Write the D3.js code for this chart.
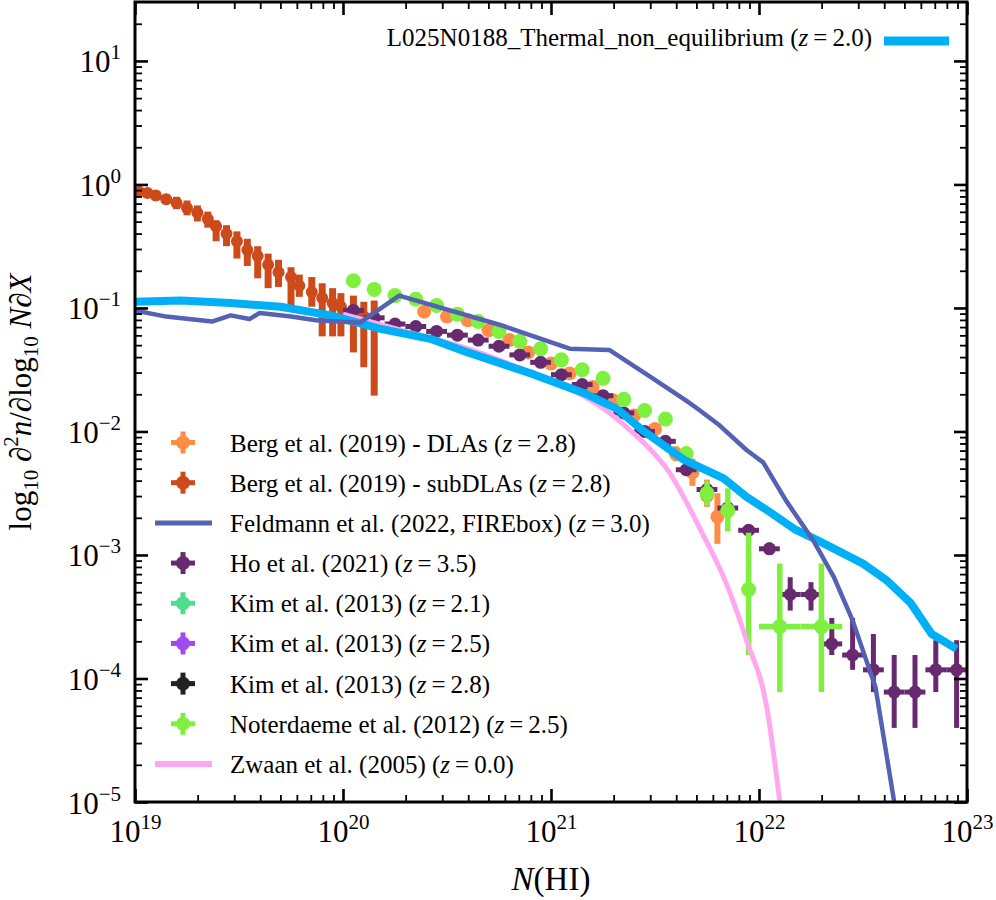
<!DOCTYPE html>
<html>
<head>
<meta charset="utf-8">
<script src="https://cdn.jsdelivr.net/npm/d3@7"></script>
<style>
  body { margin: 0; background: #fff; }
  text { font-family: "Liberation Serif", "Times New Roman", serif; fill: #000; }
</style>
</head>
<body>
<svg id="chart" width="996" height="900" font-family="Liberation Serif, serif"></svg>
<script>
// values are log10 N(HI) and log10 f

// Berg et al. (2019) subDLAs
const bergSubLogN = [19.02, 19.06, 19.10, 19.15, 19.20, 19.25, 19.30, 19.35, 19.39, 19.44, 19.49, 19.54,
  19.59, 19.64, 19.69, 19.75, 19.79, 19.85, 19.90, 19.95, 19.99, 20.05, 20.10, 20.15]
const bergSubLogF = [-0.06, -0.07, -0.09, -0.12, -0.15, -0.19, -0.23, -0.28, -0.34, -0.40, -0.46, -0.53,
  -0.58, -0.65, -0.71, -0.75, -0.82, -0.87, -0.92, -0.96, -0.99, -1.02, -1.07, -1.13]
const bergSubHi = [-0.03, -0.04, -0.05, -0.08, -0.10, -0.13, -0.17, -0.22, -0.29, -0.33, -0.38, -0.44,
  -0.50, -0.56, -0.61, -0.67, -0.73, -0.75, -0.80, -0.84, -0.88, -0.90, -0.95, -0.94]
const bergSubLo = [-0.09, -0.10, -0.13, -0.16, -0.20, -0.25, -0.30, -0.35, -0.46, -0.50, -0.60, -0.66,
  -0.76, -0.84, -0.83, -0.99, -0.91, -0.99, -1.23, -1.23, -1.23, -1.36, -1.48, -1.71]

// Berg et al. (2019) DLAs
const bergDlaLogN = [20.39, 20.50, 20.60, 20.70, 20.80, 20.89, 21.00, 21.09, 21.20, 21.30, 21.40, 21.50,
  21.60, 21.68, 21.75, 21.80]
const bergDlaLogF = [-1.03, -1.07, -1.10, -1.18, -1.26, -1.36, -1.45, -1.53, -1.64, -1.75, -1.87, -1.98,
  -2.18, -2.33, -2.52, -2.69]
const bergDlaHi = [-1.01, -1.05, -1.08, -1.16, -1.24, -1.34, -1.43, -1.51, -1.62, -1.72, -1.84, -1.94,
  -2.12, -2.22, -2.39, -2.50]
const bergDlaLo = [-1.05, -1.09, -1.12, -1.20, -1.28, -1.38, -1.47, -1.55, -1.66, -1.78, -1.90, -2.02,
  -2.24, -2.44, -2.61, -2.91]

// Ho et al. (2021)
const hoLogN = [20.05, 20.15, 20.25, 20.35, 20.45, 20.55, 20.65, 20.75, 20.85, 20.95, 21.05, 21.15,
  21.25, 21.35, 21.45, 21.55, 21.65, 21.75, 21.85, 21.95, 22.05, 22.15, 22.25, 22.35, 22.45, 22.55,
  22.65, 22.75, 22.85, 22.95]
const hoLogF = [-1.02, -1.08, -1.13, -1.15, -1.19, -1.22, -1.26, -1.31, -1.38, -1.44, -1.54, -1.62,
  -1.71, -1.85, -2.00, -2.08, -2.31, -2.47, -2.62, -2.80, -2.95, -3.32, -3.32, -3.72, -3.81, -3.93,
  -4.11, -4.11, -3.93, -3.93]
const hoHi = [-1.00, -1.06, -1.11, -1.13, -1.17, -1.20, -1.24, -1.29, -1.36, -1.42, -1.52, -1.60,
  -1.69, -1.83, -1.98, -2.05, -2.28, -2.44, -2.58, -2.76, -2.90, -3.18, -3.22, -3.51, -3.51, -3.64,
  -3.81, -3.81, -3.69, -3.69]
const hoLo = [-1.04, -1.10, -1.15, -1.17, -1.21, -1.24, -1.28, -1.33, -1.40, -1.46, -1.56, -1.64,
  -1.73, -1.87, -2.02, -2.11, -2.34, -2.50, -2.66, -2.84, -3.00, -3.45, -3.45, -3.81, -3.93, -4.11,
  -4.40, -4.40, -4.11, -4.40]

// Noterdaeme et al. (2012)
const notLogN = [20.05, 20.15, 20.25, 20.35, 20.45, 20.55, 20.65, 20.75, 20.85, 20.95, 21.05, 21.15,
  21.25, 21.35, 21.45, 21.55, 21.65, 21.75, 21.85, 21.95, 22.10, 22.30]
const notLogF = [-0.78, -0.85, -0.90, -0.93, -0.98, -1.05, -1.11, -1.19, -1.27, -1.33, -1.42, -1.50,
  -1.57, -1.74, -1.83, -1.90, -2.18, -2.50, -2.64, -3.28, -3.58, -3.58]
const notHi = [-0.76, -0.83, -0.88, -0.91, -0.96, -1.03, -1.09, -1.17, -1.25, -1.31, -1.40, -1.48,
  -1.55, -1.71, -1.80, -1.86, -2.12, -2.40, -2.46, -2.82, -3.07, -3.07]
const notLo = [-0.80, -0.87, -0.92, -0.95, -1.00, -1.07, -1.13, -1.21, -1.29, -1.35, -1.44, -1.52,
  -1.59, -1.77, -1.86, -1.94, -2.24, -2.60, -2.81, -3.81, -4.11, -4.11]
const notXerr = [0, 0, 0, 0, 0, 0, 0, 0, 0, 0, 0, 0, 0, 0, 0, 0, 0, 0, 0, 0, 0.1, 0.1]

// Feldmann et al. (2022, FIREbox)
const feldLogN = [19.00, 19.15, 19.37, 19.46, 19.55, 19.60, 19.75, 19.87, 20.08, 20.27, 20.76, 21.09,
  21.28, 21.48, 21.65, 21.70, 21.81, 21.94, 22.02, 22.13, 22.26, 22.36, 22.45, 22.56, 22.65]
const feldLogF = [-1.02, -1.07, -1.11, -1.06, -1.09, -1.04, -1.07, -1.10, -1.12, -0.90, -1.14, -1.33,
  -1.34, -1.56, -1.75, -1.81, -1.95, -2.15, -2.25, -2.56, -2.88, -3.18, -3.53, -4.07, -5.00]

// L025N0188_Thermal_non_equilibrium
const simLogN = [19.00, 19.22, 19.46, 19.70, 19.94, 20.18, 20.42, 20.60, 20.92, 21.16, 21.32, 21.44,
  21.64, 21.83, 21.94, 22.05, 22.17, 22.28, 22.50, 22.61, 22.73, 22.83, 22.95]
const simLogF = [-0.95, -0.94, -0.96, -0.99, -1.06, -1.17, -1.25, -1.36, -1.54, -1.69, -1.82, -1.99,
  -2.23, -2.38, -2.53, -2.65, -2.79, -2.88, -3.07, -3.20, -3.39, -3.64, -3.76]

// Zwaan et al. (2005)
const zwaanLogN = [20.00, 20.30, 20.60, 20.90, 21.10, 21.24, 21.40, 21.48, 21.56, 21.72, 21.85, 21.94,
  22.04, 22.10]
const zwaanLogF = [-1.05, -1.19, -1.33, -1.52, -1.66, -1.80, -2.02, -2.15, -2.31, -2.80, -3.26, -3.69,
  -4.26, -5.00]

const legendLabels = ["Berg et al. (2019) - DLAs", "Berg et al. (2019) - subDLAs",
  "Feldmann et al. (2022, FIREbox)", "Ho et al. (2021)", "Kim et al. (2013)", "Kim et al. (2013)",
  "Kim et al. (2013)", "Noterdaeme et al. (2012)", "Zwaan et al. (2005)"]
const legendZ = ["2.8", "2.8", "3.0", "3.5", "2.1", "2.5", "2.8", "2.5", "0.0"]
const simLabel = "L025N0188_Thermal_non_equilibrium"
const simZ = "2.0"

const xTickExp = [19, 20, 21, 22, 23]
const yTickExp = [1, 0, -1, -2, -3, -4, -5]

// ---------------------------------------------------------------
const pLeft = 135, pRight = 967, pTop = 2, pBottom = 802
const svg = d3.select("#chart")
svg.append("rect").attr("width", 996).attr("height", 900).attr("fill", "white")

const x = d3.scaleLog().domain([1e19, 1e23]).range([pLeft, pRight])
const y = d3.scaleLog().domain([1e-5, 30]).range([pBottom, pTop])
const X = v => x(10 ** v)
const Y = v => y(10 ** v)

const colors = {
  bergDla: "#ff8c46", bergSub: "#cd4a1b", feld: "#5561b3", ho: "#682a6e",
  kim21: "#4fdc8c", kim25: "#a04af0", kim28: "#222222", not: "#80f040",
  zwaan: "#ffa8f0", sim: "#00b0f6"
}

svg.append("clipPath").attr("id", "plotclip")
  .append("rect").attr("x", pLeft).attr("y", pTop).attr("width", pRight - pLeft).attr("height", pBottom - pTop)
const plot = svg.append("g").attr("clip-path", "url(#plotclip)")

function drawPoints(logN, logF, lo, hi, xerr, color, r, lw) {
  const g = plot.append("g")
  const d = logN.map((n, i) => ({n, f: logF[i], lo: lo[i], hi: hi[i], xe: xerr ? xerr[i] : 0}))
  g.selectAll("line.v").data(d).join("line").attr("class", "v")
    .attr("x1", p => X(p.n)).attr("x2", p => X(p.n))
    .attr("y1", p => Y(p.hi)).attr("y2", p => Y(p.lo))
    .attr("stroke", color).attr("stroke-width", lw)
  g.selectAll("line.h").data(d.filter(p => p.xe > 0)).join("line").attr("class", "h")
    .attr("x1", p => X(p.n - p.xe)).attr("x2", p => X(p.n + p.xe))
    .attr("y1", p => Y(p.f)).attr("y2", p => Y(p.f))
    .attr("stroke", color).attr("stroke-width", lw)
  g.selectAll("circle").data(d).join("circle")
    .attr("cx", p => X(p.n)).attr("cy", p => Y(p.f)).attr("r", r)
    .attr("fill", color)
}

function drawLine(logN, logF, color, lw, curve) {
  const line = d3.line().x(d => X(d[0])).y(d => Y(d[1])).curve(curve || d3.curveLinear)
  plot.append("path").datum(logN.map((n, i) => [n, logF[i]]))
    .attr("d", line).attr("fill", "none")
    .attr("stroke", color).attr("stroke-width", lw).attr("stroke-linejoin", "round")
}

drawPoints(bergSubLogN, bergSubLogF, bergSubLo, bergSubHi, null, colors.bergSub, 6, 7)
drawPoints(bergDlaLogN, bergDlaLogF, bergDlaLo, bergDlaHi, null, colors.bergDla, 7, 6)
drawPoints(hoLogN, hoLogF, hoLo, hoHi, hoLogN.map(() => 0.05), colors.ho, 6.5, 5)
drawPoints(notLogN, notLogF, notLo, notHi, notXerr, colors.not, 7.5, 5.5)

drawLine(zwaanLogN, zwaanLogF, colors.zwaan, 5, d3.curveMonotoneX)
drawLine(simLogN, simLogF, colors.sim, 8)
drawLine(feldLogN, feldLogF, colors.feld, 4.5)

// ---------------------------------------------------------------
// axes
const xMajor = xTickExp.map(e => 10 ** e)
const xMinor = d3.range(19, 23).flatMap(e => d3.range(2, 10).map(k => k * 10 ** e))
const yMajor = yTickExp.map(e => 10 ** e)
const yMinor = d3.range(-5, 2).flatMap(e => d3.range(2, 10).map(k => k * 10 ** e)).filter(v => v < 30)

function supLabel(sel, exp) {
  sel.each(function (d, i) {
    const t = d3.select(this).text(null)
    const e = exp[i]
    t.append("tspan").text("10")
    t.append("tspan").attr("font-size", 21).attr("dy", -13)
      .text(e < 0 ? "\u2212" + (-e) : String(e))
  })
}

function styleAxis(g, width) {
  g.select(".domain").remove()
  g.selectAll(".tick line").attr("stroke", "#000").attr("stroke-width", width)
}

svg.append("g").attr("transform", `translate(0,${pBottom})`)
  .call(d3.axisBottom(x).tickValues(xMinor).tickSize(-7).tickFormat(""))
  .call(g => styleAxis(g, 1.8))
svg.append("g").attr("transform", `translate(0,${pTop})`)
  .call(d3.axisTop(x).tickValues(xMinor).tickSize(-7).tickFormat(""))
  .call(g => styleAxis(g, 1.8))
svg.append("g").attr("transform", `translate(${pLeft},0)`)
  .call(d3.axisLeft(y).tickValues(yMinor).tickSize(-7).tickFormat(""))
  .call(g => styleAxis(g, 1.8))
svg.append("g").attr("transform", `translate(${pRight},0)`)
  .call(d3.axisRight(y).tickValues(yMinor).tickSize(-7).tickFormat(""))
  .call(g => styleAxis(g, 1.8))

svg.append("g").attr("transform", `translate(0,${pTop})`)
  .call(d3.axisTop(x).tickValues(xMajor).tickSize(-13).tickFormat(""))
  .call(g => styleAxis(g, 2.6))
svg.append("g").attr("transform", `translate(${pRight},0)`)
  .call(d3.axisRight(y).tickValues(yMajor).tickSize(-13).tickFormat(""))
  .call(g => styleAxis(g, 2.6))

const xAxisG = svg.append("g").attr("transform", `translate(0,${pBottom})`)
  .call(d3.axisBottom(x).tickValues(xMajor).tickSize(-13).tickFormat(d => d))
  .call(g => styleAxis(g, 2.6))
xAxisG.selectAll(".tick text")
  .attr("y", 40).attr("dy", 0).attr("font-size", 31)
  .attr("font-family", "Liberation Serif").attr("fill", "#000")
  .call(s => supLabel(s, xTickExp))

const yAxisG = svg.append("g").attr("transform", `translate(${pLeft},0)`)
  .call(d3.axisLeft(y).tickValues(yMajor).tickSize(-13).tickFormat(d => d))
  .call(g => styleAxis(g, 2.6))
yAxisG.selectAll(".tick text")
  .attr("x", -14).attr("dy", 11).attr("font-size", 31)
  .attr("font-family", "Liberation Serif").attr("fill", "#000")
  .call(s => supLabel(s, yTickExp))

svg.append("rect")
  .attr("x", pLeft).attr("y", pTop).attr("width", pRight - pLeft).attr("height", pBottom - pTop)
  .attr("fill", "none").attr("stroke", "#000").attr("stroke-width", 3)

// axis titles
const xt = svg.append("text").attr("x", (pLeft + pRight) / 2).attr("y", 890)
  .attr("text-anchor", "middle").attr("font-size", 33)
xt.append("tspan").attr("font-style", "italic").text("N")
xt.append("tspan").text("(HI)")

const yt = svg.append("text").attr("transform", `translate(31,${(pTop + pBottom) / 2}) rotate(-90)`)
  .attr("text-anchor", "middle").attr("font-size", 31)
yt.append("tspan").text("log")
yt.append("tspan").attr("font-size", 21).attr("dy", 7).text("10")
yt.append("tspan").attr("dy", -7).text(" \u2202")
yt.append("tspan").attr("font-size", 21).attr("dy", -13).text("2")
yt.append("tspan").attr("font-style", "italic").attr("dy", 13).text("n")
yt.append("tspan").text("/\u2202log")
yt.append("tspan").attr("font-size", 21).attr("dy", 7).text("10")
yt.append("tspan").attr("font-style", "italic").attr("dy", -7).text(" N")
yt.append("tspan").text("\u2202")
yt.append("tspan").attr("font-style", "italic").text("X")

// ---------------------------------------------------------------
// legends
function zLabel(t, label, z) {
  t.append("tspan").text(label + " (")
  t.append("tspan").attr("font-style", "italic").text("z")
  t.append("tspan").text("\u2009=\u2009" + z + ")")
}

const simLeg = svg.append("g")
simLeg.append("line").attr("x1", 884).attr("x2", 949).attr("y1", 41).attr("y2", 41)
  .attr("stroke", colors.sim).attr("stroke-width", 9)
zLabel(simLeg.append("text").attr("x", 872).attr("y", 46).attr("text-anchor", "end").attr("font-size", 25),
  simLabel, simZ)

const legendKinds = ["pt", "pt", "line", "pt", "pt", "pt", "pt", "pt", "line"]
const legendColors = [colors.bergDla, colors.bergSub, colors.feld, colors.ho, colors.kim21,
  colors.kim25, colors.kim28, colors.not, colors.zwaan]
const rowY = d3.scaleLinear().domain([0, legendLabels.length - 1]).range([442.5, 764])
const leg = svg.append("g")
legendLabels.forEach((lab, i) => {
  const cy = rowY(i)
  const c = legendColors[i]
  if (legendKinds[i] === "line") {
    leg.append("line").attr("x1", 155).attr("x2", 212).attr("y1", cy).attr("y2", cy)
      .attr("stroke", c).attr("stroke-width", i === 8 ? 6 : 5)
  } else {
    leg.append("line").attr("x1", 171).attr("x2", 195).attr("y1", cy).attr("y2", cy)
      .attr("stroke", c).attr("stroke-width", 5)
    leg.append("line").attr("x1", 183).attr("x2", 183).attr("y1", cy - 11).attr("y2", cy + 11)
      .attr("stroke", c).attr("stroke-width", 5)
    leg.append("circle").attr("cx", 183).attr("cy", cy).attr("r", 7).attr("fill", c)
  }
  zLabel(leg.append("text").attr("x", 230).attr("y", cy + 9).attr("font-size", 25), lab, legendZ[i])
})
</script>
</body>
</html>
